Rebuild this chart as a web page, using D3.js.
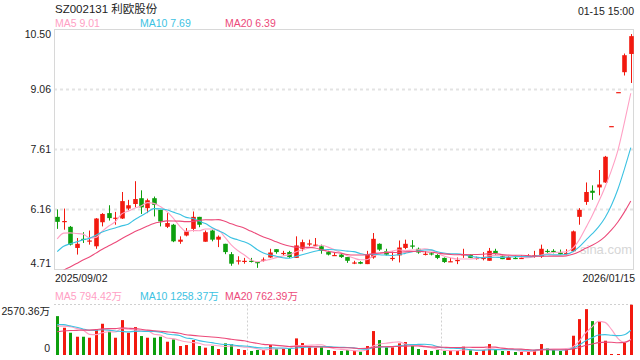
<!DOCTYPE html>
<html>
<head>
<meta charset="utf-8">
<script src="https://cdn.jsdelivr.net/npm/d3@7"></script>
<style>
  body { margin: 0; background: #fff; }
  text { font-family: Arial, "Liberation Sans", "Noto Sans CJK SC", sans-serif; }
</style>
</head>
<body>
<div id="chart"></div>
<script>
// daily k-line, 2025/09/02 .. 2026/01/15
var opens = [5.98,5.86,5.74,5.23,5.45,5.40,5.27,5.85,6.07,5.94,
             5.94,6.18,6.29,6.43,6.19,6.43,6.15,5.74,5.79,5.38,
             5.53,5.69,5.98,5.38,5.65,5.43,5.33,5.08,4.92,4.91,
             4.92,4.89,4.94,5.00,5.20,5.10,5.13,4.99,5.21,5.33,
             5.30,5.27,5.13,5.05,5.07,5.01,4.87,4.89,4.84,5.00,
             5.33,5.15,4.98,5.05,5.23,5.29,5.21,5.08,5.10,5.06,
             4.99,4.90,4.93,5.07,5.07,4.98,4.98,4.92,5.16,5.03,
             4.94,4.99,4.98,5.03,5.03,5.02,5.16,5.16,5.12,5.10,
             5.15,5.98,6.34,6.61,6.69,6.81,8.17,8.99,9.47,9.91];
var highs = [6.16,6.18,5.76,5.47,5.61,5.65,5.95,6.07,6.26,6.10,
             6.58,6.39,6.84,6.62,6.42,6.47,6.15,6.07,5.81,5.51,
             5.71,6.11,5.98,5.65,5.67,5.53,5.33,5.13,5.03,4.99,
             4.99,4.89,5.00,5.21,5.20,5.16,5.16,5.51,5.43,5.43,
             5.47,5.31,5.16,5.12,5.08,5.01,4.92,4.91,5.16,5.59,
             5.34,5.21,5.15,5.41,5.43,5.42,5.24,5.15,5.13,5.08,
             5.00,4.99,5.00,5.21,5.08,5.02,5.13,5.23,5.21,5.05,
             5.03,5.05,5.05,5.08,5.16,5.31,5.20,5.20,5.19,5.20,
             5.65,6.19,6.81,6.74,7.11,7.45,8.17,8.99,9.92,10.39];
var lows = [5.69,5.67,5.29,5.07,5.35,5.31,5.21,5.75,5.89,5.79,
            5.93,6.14,6.21,6.05,6.07,5.99,5.75,5.71,5.37,5.33,
            5.51,5.63,5.73,5.38,5.39,5.25,5.08,4.80,4.83,4.85,
            4.88,4.75,4.90,4.99,5.09,5.05,4.99,4.99,5.15,5.27,
            5.27,5.09,5.05,5.04,4.99,4.87,4.84,4.84,4.84,4.97,
            5.16,5.05,4.92,4.88,5.20,5.21,5.09,5.05,5.05,4.96,
            4.87,4.89,4.84,4.99,4.99,4.95,4.93,4.92,5.07,4.96,
            4.94,4.96,4.97,5.02,4.99,4.99,5.11,5.10,5.07,5.07,
            5.13,5.79,6.27,6.39,6.50,6.80,8.17,8.99,9.39,9.21];
var closes = [5.86,5.88,5.31,5.33,5.44,5.41,5.94,6.05,5.95,5.96,
              6.36,6.26,6.41,6.21,6.38,6.27,5.87,5.83,5.39,5.43,
              5.63,5.98,5.79,5.61,5.43,5.50,5.13,4.85,4.93,4.92,
              4.91,4.87,4.95,5.12,5.13,5.11,5.01,5.29,5.37,5.34,
              5.31,5.16,5.07,5.06,5.01,4.92,4.88,4.85,5.07,5.45,
              5.19,5.07,4.99,5.24,5.33,5.26,5.12,5.09,5.09,4.99,
              4.89,4.91,4.94,5.08,4.99,4.99,4.99,5.16,5.10,4.96,
              5.01,4.98,4.99,5.04,5.05,5.21,5.15,5.15,5.08,5.11,
              5.63,6.15,6.58,6.56,6.76,7.43,8.17,8.99,9.88,10.34];
// volume, 万股
var volumes = [1978,1387,1133,930,930,879,1319,1590,1184,879,
               1776,1133,1420,964,879,879,930,676,795,457,
               507,761,457,372,457,304,592,558,304,254,
               203,254,254,507,321,321,321,845,609,389,
               372,389,254,203,203,254,203,169,457,1218,
               761,389,389,592,659,457,304,254,203,254,
               203,203,203,423,254,152,254,558,254,203,
               203,152,152,203,254,558,338,254,203,287,
               981,1826,2334,1725,1691,727,51,51,643,2570.36];
// the 19 sessions before the first bar, only used by the moving averages
var prevCloses = [3.62,3.70,3.68,3.80,3.92,4.05,4.18,4.30,4.38,4.52,
                  4.60,4.72,4.85,4.96,5.05,5.18,5.28,5.40,5.52];
var prevVolumes = [620,700,750,680,820,900,780,950,880,1040,
                   1500,1750,1620,1800,1540,1400,1250,1380,1342];

var priceTicks = [4.71, 6.16, 7.61, 9.06, 10.50];
var volTicks = [0, 2570.36];
var dateLabels = ["2025/09/02", "2026/01/15"];
var maPeriods = [5, 10, 20];
var priceMaLast = [9.01, 7.69, 6.39];
var volMaLast = [794.42, 1258.37, 762.39];
var stockTitle = "SZ002131 利欧股份";
var timeLabel = "01-15 15:00";

var W = 640, H = 360;
var left = 54, right = 634;
var mainTop = 29.5, mainBottom = 269.5;
var volTop = 304.5, volBottom = 355;
var upColor = "#f2190f", downColor = "#0d9f0d";
var maColors = ["#ffa0c4", "#3cc2e2", "#ec4a7a"];

var n = closes.length;
var candles = closes.map(function(c, i) {
  return {i: i, o: opens[i], h: highs[i], l: lows[i], c: c, v: volumes[i]};
});

function movingAvg(prev, cur, p) {
  var all = prev.concat(cur);
  return cur.map(function(d, i) {
    var end = prev.length + i;
    return d3.mean(all.slice(end - p + 1, end + 1));
  });
}

var svg = d3.select("#chart").append("svg")
  .attr("width", W).attr("height", H);

var x = d3.scaleBand().domain(d3.range(n)).range([left, right]);
var y = d3.scaleLinear().domain([priceTicks[0], priceTicks[priceTicks.length - 1]])
  .range([mainBottom, mainTop]);
var yv = d3.scaleLinear().domain([0, volTicks[1]]).range([volBottom, volTop]);

function cx(i) { return Math.round(x(i) + x.bandwidth() / 2) + 0.5; }

var defs = svg.append("defs");
defs.append("clipPath").attr("id", "clipMain").append("rect")
  .attr("x", left).attr("y", mainTop).attr("width", right - left).attr("height", mainBottom - mainTop);
defs.append("clipPath").attr("id", "clipVol").append("rect")
  .attr("x", left).attr("y", volTop).attr("width", right - left).attr("height", volBottom - volTop);

// header
svg.append("text").attr("x", 55).attr("y", 12.7)
  .attr("font-size", 11.5).attr("fill", "#222").text(stockTitle);
svg.append("text").attr("x", 634).attr("y", 15).attr("text-anchor", "end")
  .attr("font-size", 10.5).attr("fill", "#222").text(timeLabel);

var legendX = [55, 140, 225];
maPeriods.forEach(function(p, k) {
  svg.append("text").attr("x", legendX[k]).attr("y", 27.3)
    .attr("font-size", 10.5).attr("fill", maColors[k])
    .text("MA" + p + " " + priceMaLast[k].toFixed(2));
  svg.append("text").attr("x", legendX[k]).attr("y", 299.5)
    .attr("font-size", 10.5).attr("fill", maColors[k])
    .text("MA" + p + " " + volMaLast[k].toFixed(2) + "万");
});

// main panel grid + frame
svg.append("g").selectAll("line").data(priceTicks.slice(1, -1)).enter().append("line")
  .attr("x1", left).attr("x2", right)
  .attr("y1", function(d) { return Math.round(y(d)) + 0.5; })
  .attr("y2", function(d) { return Math.round(y(d)) + 0.5; })
  .attr("stroke", "#e3e3e3").attr("stroke-width", 2).attr("stroke-dasharray", "3,3");
svg.append("rect").attr("x", left + 0.5).attr("y", mainTop).attr("width", right - left - 1)
  .attr("height", mainBottom - mainTop).attr("fill", "none").attr("stroke", "#d8d8d8");

svg.append("text").attr("x", 580).attr("y", 254).attr("font-size", 13)
  .attr("fill", "#d6d6d6").text("sina.com");

svg.append("g").selectAll("text").data(priceTicks).enter().append("text")
  .attr("x", 51).attr("text-anchor", "end").attr("font-size", 10.5).attr("fill", "#222")
  .attr("y", function(d, i) {
    if (i === 0) return y(d) - 2.8;
    if (i === priceTicks.length - 1) return y(d) + 8.6;
    return y(d) + 3.6;
  })
  .text(function(d) { return d.toFixed(2); });

// candles
var cg = svg.append("g").attr("clip-path", "url(#clipMain)");
var bw = 4.6;
var candle = cg.selectAll("g").data(candles).enter().append("g");
candle.append("line")
  .attr("x1", function(d) { return cx(d.i); }).attr("x2", function(d) { return cx(d.i); })
  .attr("y1", function(d) { return y(d.h); }).attr("y2", function(d) { return y(d.l); })
  .attr("stroke", function(d) { return d.c >= d.o ? upColor : downColor; });
candle.append("rect")
  .attr("x", function(d) { return cx(d.i) - bw / 2; })
  .attr("width", bw)
  .attr("y", function(d) { return y(Math.max(d.o, d.c)); })
  .attr("height", function(d) { return Math.max(1.2, Math.abs(y(d.o) - y(d.c))); })
  .attr("fill", function(d) { return d.c >= d.o ? upColor : downColor; });

// price moving averages
var line = d3.line().curve(d3.curveMonotoneX)
  .x(function(d, i) { return x(i) + x.bandwidth() / 2; });
maPeriods.forEach(function(p, k) {
  var m = movingAvg(prevCloses, closes, p);
  cg.append("path").datum(m)
    .attr("d", line.y(function(d) { return y(d); }))
    .attr("fill", "none").attr("stroke", maColors[k]).attr("stroke-width", 1.1);
});

// dates
svg.append("text").attr("x", 55).attr("y", 281.5).attr("font-size", 10.5).attr("fill", "#222").text(dateLabels[0]);
svg.append("text").attr("x", 635).attr("y", 281.5).attr("text-anchor", "end")
  .attr("font-size", 10.5).attr("fill", "#222").text(dateLabels[1]);

// volume panel
svg.append("line").attr("x1", left).attr("x2", right).attr("y1", volTop).attr("y2", volTop)
  .attr("stroke", "#d0d0d0").attr("stroke-dasharray", "2,2");
[1, 2].forEach(function(k) {
  var xx = Math.round(left + (right - left) * k / 3) + 0.5;
  svg.append("line").attr("x1", xx).attr("x2", xx).attr("y1", volTop).attr("y2", volBottom)
    .attr("stroke", "#d0d0d0").attr("stroke-dasharray", "2,2");
});
svg.append("text").attr("x", 50).attr("y", 314.5).attr("text-anchor", "end")
  .attr("font-size", 10.5).attr("fill", "#222").text(volTicks[1].toFixed(2) + "万");
svg.append("text").attr("x", 50).attr("y", 351.7).attr("text-anchor", "end")
  .attr("font-size", 10.5).attr("fill", "#222").text(volTicks[0]);

var vg = svg.append("g").attr("clip-path", "url(#clipVol)");
var vw = 3;
vg.selectAll("rect").data(candles).enter().append("rect")
  .attr("x", function(d) { return cx(d.i) - vw / 2; })
  .attr("width", vw)
  .attr("y", function(d) { return yv(d.v); })
  .attr("height", function(d) { return volBottom - yv(d.v); })
  .attr("fill", function(d) { return d.c >= d.o ? upColor : downColor; });

maPeriods.forEach(function(p, k) {
  var m = movingAvg(prevVolumes, volumes, p);
  vg.append("path").datum(m)
    .attr("d", line.y(function(d) { return yv(d); }))
    .attr("fill", "none").attr("stroke", maColors[k]).attr("stroke-width", 1.1);
});
</script>
</body>
</html>
